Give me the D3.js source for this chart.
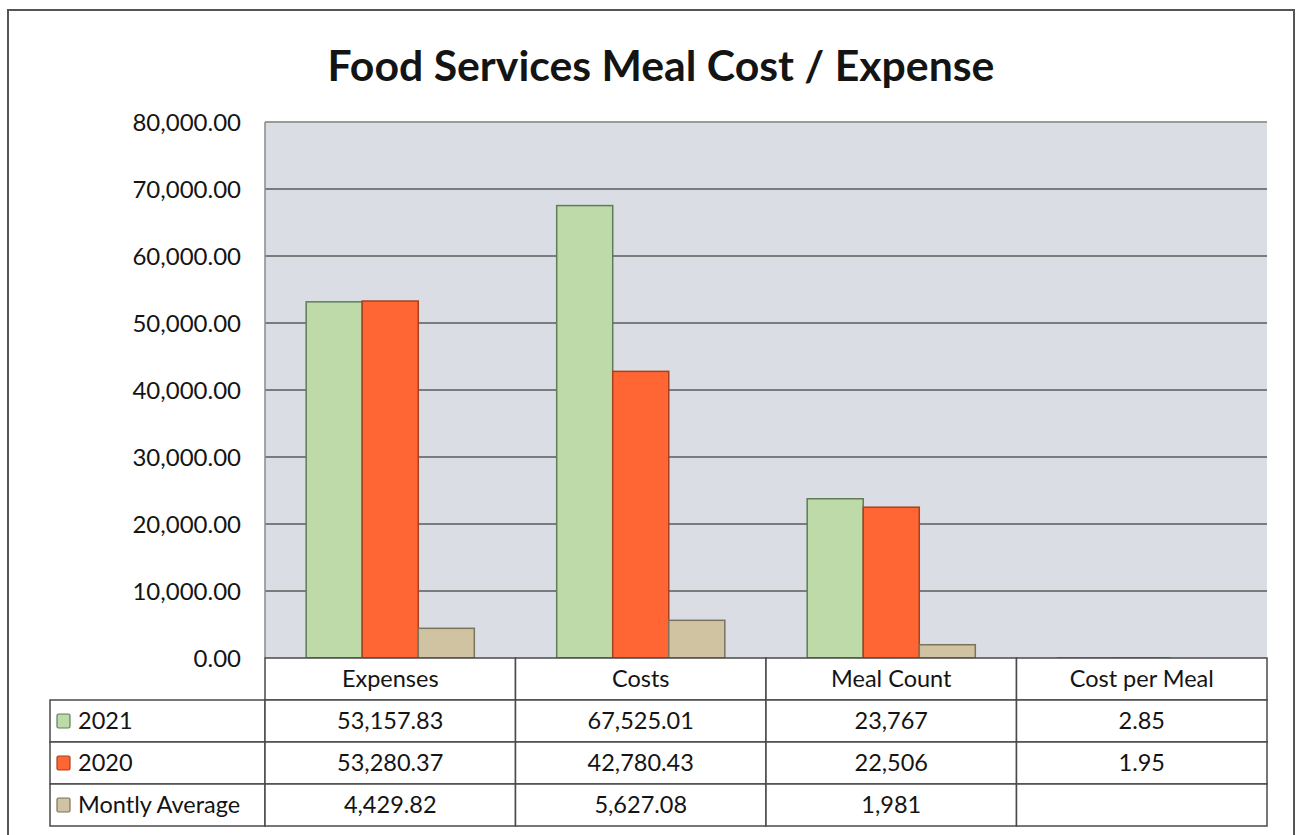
<!DOCTYPE html>
<html>
<head>
<meta charset="utf-8">
<script src="https://cdn.jsdelivr.net/npm/d3@7"></script>
<style>
  html, body { margin: 0; padding: 0; background: #ffffff; }
  svg { display: block; }
  text { font-family: Lato, "Open Sans", sans-serif; fill: #141414; }
</style>
</head>
<body>
<svg id="chart" width="1299" height="835"></svg>
<script>
// ---- data ----
const title = "Food Services Meal Cost / Expense";
const categories = ["Expenses", "Costs", "Meal Count", "Cost per Meal"];
const seriesNames = ["2021", "2020", "Montly Average"];
const values2021 = [53157.83, 67525.01, 23767, 2.85];
const values2020 = [53280.37, 42780.43, 22506, 1.95];
const valuesMonthly = [4429.82, 5627.08, 1981, null];
const valueFormats = [",.2f", ",.2f", ",.0f", ",.2f"];
const yTicks = [0, 10000, 20000, 30000, 40000, 50000, 60000, 70000, 80000];

// ---- styles ----
const fills = ["#bddaa8", "#ff6633", "#cfc3a1"];
const strokes = ["#5f7d56", "#a8401f", "#7d725c"];

const svg = d3.select("#chart");

// layout
const plot = { left: 265, right: 1267, top: 122, bottom: 658 };
const legendLeft = 50;
const rowH = 42;

// outer frame
svg.append("rect")
  .attr("x", 8).attr("y", 10).attr("width", 1286).attr("height", 840)
  .attr("fill", "#fff").attr("stroke", "#555").attr("stroke-width", 2);

// title
const t = svg.append("text")
  .attr("x", 661).attr("y", 81)
  .attr("text-anchor", "middle")
  .attr("font-weight", 700)
  .attr("font-size", 40)
  .text(title);
{
  const w = t.node().getComputedTextLength();
  t.attr("font-size", 40 * 667 / w);
}

// scales
const x = d3.scaleBand().domain(categories).range([plot.left, plot.right]);
const y = d3.scaleLinear().domain([0, 80000]).range([plot.bottom, plot.top]);
const inner = d3.scaleBand().domain(seriesNames).range([0, x.bandwidth()])
  .paddingOuter(0.735).paddingInner(0);

// plot background
svg.append("rect")
  .attr("x", plot.left).attr("y", plot.top)
  .attr("width", plot.right - plot.left).attr("height", plot.bottom - plot.top)
  .attr("fill", "#dadde3");

// gridlines
svg.append("g").selectAll("line")
  .data(yTicks.filter(d => d > 0))
  .join("line")
  .attr("x1", plot.left).attr("x2", plot.right)
  .attr("y1", d => y(d)).attr("y2", d => y(d))
  .attr("stroke", d => d === 80000 ? "#9a9a9a" : "#5a5a5a")
  .attr("stroke-width", d => d === 80000 ? 2 : 1.5);

// left plot edge
svg.append("line")
  .attr("x1", plot.left).attr("x2", plot.left)
  .attr("y1", plot.top).attr("y2", plot.bottom)
  .attr("stroke", "#8a8a8a").attr("stroke-width", 1.5);

// y axis
const yAxis = d3.axisLeft(y).tickValues(yTicks).tickFormat(d3.format(",.2f")).tickSize(0).tickPadding(0);
const ya = svg.append("g").attr("transform", `translate(${241},0)`).call(yAxis);
ya.select(".domain").remove();
ya.selectAll("text")
  .attr("font-family", "Lato, sans-serif")
  .attr("font-size", 24)
  .attr("fill", "#141414")
  .attr("dy", "0.35em");

// bars
const series = [values2021, values2020, valuesMonthly];
const barData = [];
series.forEach((vals, si) => {
  vals.forEach((v, ci) => {
    if (v != null) barData.push({ s: si, c: categories[ci], v });
  });
});
svg.append("g").selectAll("rect")
  .data(barData)
  .join("rect")
  .attr("x", d => x(d.c) + inner(seriesNames[d.s]))
  .attr("width", inner.bandwidth())
  .attr("y", d => y(d.v))
  .attr("height", d => y(0) - y(d.v))
  .attr("fill", d => fills[d.s])
  .attr("stroke", d => strokes[d.s])
  .attr("stroke-width", 1.5);

// data table
const tbl = svg.append("g");
const lineColor = "#4a4a4a";
const tableTop = plot.bottom;
const fs = 23.5;
// header row cells
categories.forEach(c => {
  tbl.append("rect")
    .attr("x", x(c)).attr("y", tableTop)
    .attr("width", x.bandwidth()).attr("height", rowH)
    .attr("fill", "#fff").attr("stroke", lineColor).attr("stroke-width", 1.5);
  tbl.append("text")
    .attr("x", x(c) + x.bandwidth() / 2).attr("y", tableTop + rowH / 2)
    .attr("dy", "0.35em").attr("text-anchor", "middle")
    .attr("font-size", fs).text(c);
});
// data rows
series.forEach((vals, si) => {
  const ry = tableTop + rowH * (si + 1);
  tbl.append("rect")
    .attr("x", legendLeft).attr("y", ry)
    .attr("width", plot.left - legendLeft).attr("height", rowH)
    .attr("fill", "#fff").attr("stroke", lineColor).attr("stroke-width", 1.5);
  tbl.append("rect")
    .attr("x", legendLeft + 7).attr("y", ry + rowH / 2 - 7)
    .attr("width", 13).attr("height", 14).attr("rx", 1.5)
    .attr("fill", fills[si]).attr("stroke", strokes[si]).attr("stroke-width", 1.2);
  tbl.append("text")
    .attr("x", legendLeft + 28).attr("y", ry + rowH / 2)
    .attr("dy", "0.35em").attr("font-size", fs)
    .text(seriesNames[si]);
  categories.forEach((c, ci) => {
    tbl.append("rect")
      .attr("x", x(c)).attr("y", ry)
      .attr("width", x.bandwidth()).attr("height", rowH)
      .attr("fill", "#fff").attr("stroke", lineColor).attr("stroke-width", 1.5);
    if (vals[ci] != null) {
      tbl.append("text")
        .attr("x", x(c) + x.bandwidth() / 2).attr("y", ry + rowH / 2)
        .attr("dy", "0.35em").attr("text-anchor", "middle")
        .attr("font-size", fs)
        .text(d3.format(valueFormats[ci])(vals[ci]));
    }
  });
});
</script>
</body>
</html>
